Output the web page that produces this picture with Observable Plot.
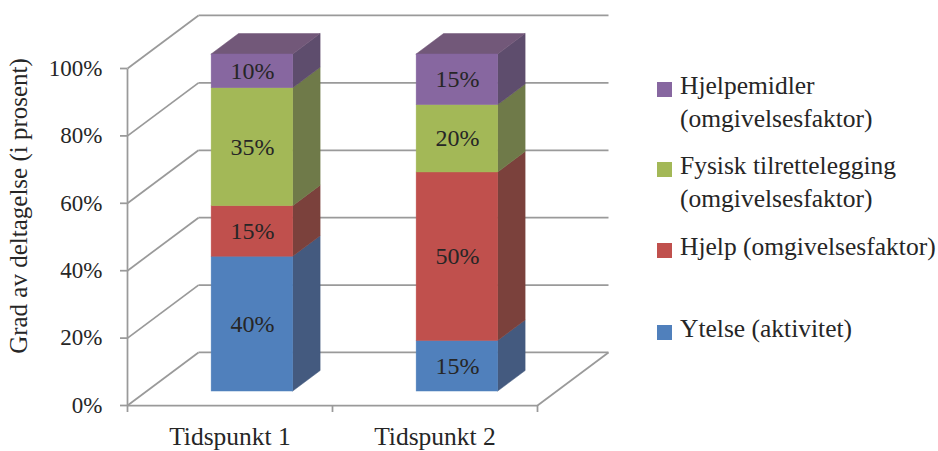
<!DOCTYPE html>
<html>
<head>
<meta charset="utf-8">
<script src="https://cdn.jsdelivr.net/npm/d3@7"></script>
<script src="https://cdn.jsdelivr.net/npm/@observablehq/plot@0.6"></script>
<style>
  html, body { margin: 0; padding: 0; background: #fff; }
  #wrap { position: relative; width: 938px; height: 451px; font-family: "Liberation Serif", "Times New Roman", "DejaVu Serif", serif; }
  #chart { position: absolute; left: 0; top: 0; }
  #chart svg, #chart svg text { font-family: "Liberation Serif", "Times New Roman", "DejaVu Serif", serif !important; }
  .item { position: absolute; left: 657px; display: flex; align-items: flex-start; }
  .sw { width: 15px; height: 15px; margin-top: 13px; margin-right: 8px; flex: none; }
  .lbl { font-size: 25.5px; line-height: 33px; color: #262626; width: 270px; }
</style>
</head>
<body>
<div id="wrap"><div id="chart"></div></div>
<script>
// ---- data ----
const categories = ["Tidspunkt 1", "Tidspunkt 2"];
const seriesNames = [
  "Ytelse (aktivitet)",
  "Hjelp (omgivelsesfaktor)",
  "Fysisk tilrettelegging (omgivelsesfaktor)",
  "Hjelpemidler (omgivelsesfaktor)"
];
const ytelse = [40, 15];
const hjelp = [15, 50];
const fysisk = [35, 20];
const hjelpemidler = [10, 15];
const yTicks = [0, 20, 40, 60, 80, 100];

// ---- styles ----
const frontColors = ["#5080BC", "#C0504D", "#A3B857", "#8767A0"];
const sideColors  = ["#445A7F", "#7B413C", "#6F7A49", "#5E4D6D"];
const topColors   = ["#4A6A9C", "#9A4744", "#87964E", "#725879"];
const gridColor = "#9a9a9a";
const textColor = "#262626";
const serif = "'Liberation Serif', 'Times New Roman', 'DejaVu Serif', serif";

// oblique projection of the depth axis (in data units for the full depth)
const DX = 71 / 205;   // category units
const DY = 15.73;      // percent units
const D0 = 0.264, D1 = 0.65;   // bar front/back depth
const BAR_C = 0.518, BAR_W = 0.398;

const values = [ytelse, hjelp, fysisk, hjelpemidler];
const segments = [];
categories.forEach((c, i) => {
  let acc = 0;
  values.forEach((arr, k) => {
    const v = arr[i];
    segments.push({i, k, v, y0: acc, y1: acc + v, id: i + "-" + k,
      xl: i + BAR_C - BAR_W / 2, xr: i + BAR_C + BAR_W / 2});
    acc += v;
  });
});
const tops = categories.map((c, i) => segments.filter(s => s.i === i).slice(-1)[0]);

const sidePts = segments.flatMap(s => [D0, D1].map(d => ({
  id: s.id, k: s.k, x: s.xr + d * DX, y1: s.y0 + d * DY, y2: s.y1 + d * DY
})));
const topPts = tops.flatMap(s => [D0, D1].map(d => ({
  id: s.id, k: s.k, y: s.y1 + d * DY, x1: s.xl + d * DX, x2: s.xr + d * DX
})));

const plot = Plot.plot({
  width: 640,
  height: 451,
  marginLeft: 127,
  marginRight: 103,
  marginTop: 68,
  marginBottom: 46,
  style: {fontFamily: serif, background: "transparent"},
  x: {domain: [0, 2], label: null},
  y: {domain: [0, 100], label: null},
  color: {type: "identity"},
  marks: [
    // back wall gridlines
    Plot.link(yTicks, {x1: () => DX, x2: () => 2 + DX, y1: v => v + DY, y2: v => v + DY,
      stroke: gridColor, strokeWidth: 1.75}),
    // side wall diagonals
    Plot.link(yTicks, {x1: () => 0, x2: () => DX, y1: v => v, y2: v => v + DY,
      stroke: gridColor, strokeWidth: 1.75}),
    // floor front edge and right edge, vertical axis line
    Plot.link([0], {x1: () => 0, x2: () => 2, y1: () => 0, y2: () => 0, stroke: gridColor, strokeWidth: 1.75}),
    Plot.link([0], {x1: () => 2, x2: () => 2 + DX, y1: () => 0, y2: () => DY, stroke: gridColor, strokeWidth: 1.75}),
    Plot.link([0], {x1: () => 0, x2: () => 0, y1: () => 0, y2: () => 100, stroke: gridColor, strokeWidth: 1.75}),
    // bar side faces
    Plot.areaY(sidePts, {x: "x", y1: "y1", y2: "y2", z: "id", fill: d => sideColors[d.k],
      stroke: d => sideColors[d.k], strokeWidth: 0.5, curve: "linear"}),
    // bar top faces
    Plot.areaX(topPts, {y: "y", x1: "x1", x2: "x2", z: "id", fill: d => topColors[d.k],
      stroke: d => topColors[d.k], strokeWidth: 0.5, curve: "linear"}),
    // bar front faces
    Plot.rect(segments, {x1: d => d.xl + D0 * DX, x2: d => d.xr + D0 * DX,
      y1: d => d.y0 + D0 * DY, y2: d => d.y1 + D0 * DY,
      fill: d => frontColors[d.k], stroke: d => frontColors[d.k], strokeWidth: 0.5}),
    // value labels
    Plot.text(segments, {x: d => (d.xl + d.xr) / 2 + D0 * DX, y: d => (d.y0 + d.y1) / 2 + D0 * DY,
      text: d => d.v + "%", fontSize: 24, fill: textColor}),
    // axes
    Plot.axisY({ticks: yTicks, tickSize: 7, tickPadding: 18, tickFormat: d => d + "%",
      stroke: gridColor, strokeWidth: 1.75, fill: textColor, fontSize: 23}),
    Plot.axisX({ticks: [0, 1, 2], tickSize: 7, tickFormat: () => "", stroke: gridColor, strokeWidth: 1.75}),
    Plot.axisX({ticks: [0.5, 1.5], tickSize: 0, tickPadding: 21,
      tickFormat: d => categories[Math.floor(d)], fill: textColor, fontSize: 25.5}),
    // y title
    Plot.text(["Grad av deltagelse (i prosent)"], {frameAnchor: "left", rotate: -90, dx: -118, dy: -31,
      textAnchor: "middle", lineAnchor: "top", text: d => d, fontSize: 25, fill: textColor})
  ]
});
document.getElementById("chart").appendChild(plot);

// legend (reverse stack order)
const legendTops = [69, 149, 230, 312];
const wrap = document.getElementById("wrap");
[3, 2, 1, 0].forEach((k, j) => {
  const item = document.createElement("div");
  item.className = "item";
  item.style.top = legendTops[j] + "px";
  const sw = document.createElement("div");
  sw.className = "sw";
  sw.style.background = frontColors[k];
  const lbl = document.createElement("div");
  lbl.className = "lbl";
  lbl.textContent = seriesNames[k];
  item.appendChild(sw);
  item.appendChild(lbl);
  wrap.appendChild(item);
});
</script>
</body>
</html>
